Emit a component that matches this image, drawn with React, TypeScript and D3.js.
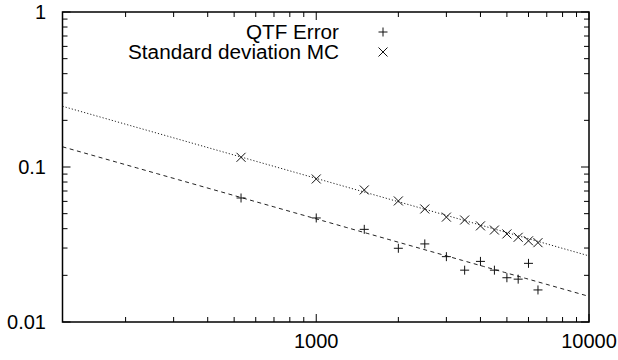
import React from "react";
import * as d3 from "d3";

const sampleSizes = [530, 1000, 1500, 2000, 2500, 3000, 3500, 4000, 4500, 5000, 5500, 6000, 6500];
const qtfError = [0.0631, 0.0469, 0.0396, 0.0299, 0.0319, 0.0264, 0.0216, 0.0246, 0.0216, 0.0193, 0.0189, 0.0239, 0.0161];
const stdDevMC = [0.1155, 0.0837, 0.0711, 0.0604, 0.0536, 0.0475, 0.0455, 0.0417, 0.0392, 0.037, 0.0352, 0.0334, 0.0325];
const qtfFit = { a: 1.463, b: -0.5 };
const mcFit = { a: 2.67, b: -0.5 };
const xDomain = [117.4, 10000];
const yDomain = [0.01, 1];
const xTickLabels = [1000, 10000];
const yTickLabels = [0.01, 0.1, 1];
const legendLabels = ["QTF Error", "Standard deviation MC"];

const W = 618, H = 360;
const L = 62.5, R = 589, T = 12, B = 322;
const FONT = "'Liberation Sans', Arial, Helvetica, sans-serif";

export default function App() {
  const x = d3.scaleLog().domain(xDomain).range([L, R]);
  const y = d3.scaleLog().domain(yDomain).range([B, T]);

  const xMinor: number[] = [];
  for (let dec = 100; dec < 10000; dec *= 10)
    for (let k = 2; k <= 9; k++) {
      const v = dec * k;
      if (v >= xDomain[0] && v < xDomain[1]) xMinor.push(v);
    }
  const yMinor: number[] = [];
  for (let dec = 0.01; dec < 1; dec *= 10)
    for (let k = 2; k <= 9; k++) yMinor.push(dec * k);

  const fitPts = (f: { a: number; b: number }) => {
    const pts: [number, number][] = [];
    const n = 50;
    const l0 = Math.log10(xDomain[0]), l1 = Math.log10(xDomain[1]);
    for (let i = 0; i <= n; i++) {
      const xv = Math.pow(10, l0 + ((l1 - l0) * i) / n);
      pts.push([xv, f.a * Math.pow(xv, f.b)]);
    }
    return pts;
  };
  const line = d3.line<[number, number]>().x((d) => x(d[0])).y((d) => y(d[1]));

  const plus = (cx: number, cy: number, s = 4.5) =>
    `M${cx - s},${cy}H${cx + s}M${cx},${cy - s}V${cy + s}`;
  const cross = (cx: number, cy: number, s = 4.5) =>
    `M${cx - s},${cy - s}L${cx + s},${cy + s}M${cx - s},${cy + s}L${cx + s},${cy - s}`;

  const major = 8, minor = 5;
  const ink = "#000";

  return (
    <svg width={W} height={H} style={{ position: "absolute", left: 0, top: 0, background: "#fff" }}
      fontFamily={FONT}>
      <rect x={0} y={0} width={W} height={H} fill="#fff" />
      <defs>
        <clipPath id="plot">
          <rect x={L} y={T} width={R - L} height={B - T} />
        </clipPath>
      </defs>
      {/* ticks */}
      <g stroke={ink} strokeWidth={1}>
        {xMinor.map((v, i) => (
          <g key={"xm" + i}>
            <line x1={x(v)} x2={x(v)} y1={B} y2={B - minor} />
            <line x1={x(v)} x2={x(v)} y1={T} y2={T + minor} />
          </g>
        ))}
        {xTickLabels.map((v, i) => (
          <g key={"xM" + i}>
            <line x1={x(v)} x2={x(v)} y1={B} y2={B - major} />
            <line x1={x(v)} x2={x(v)} y1={T} y2={T + major} />
          </g>
        ))}
        {yMinor.map((v, i) => (
          <g key={"ym" + i}>
            <line x1={L} x2={L + minor} y1={y(v)} y2={y(v)} />
            <line x1={R} x2={R - minor} y1={y(v)} y2={y(v)} />
          </g>
        ))}
        {yTickLabels.map((v, i) => (
          <g key={"yM" + i}>
            <line x1={L} x2={L + major} y1={y(v)} y2={y(v)} />
            <line x1={R} x2={R - major} y1={y(v)} y2={y(v)} />
          </g>
        ))}
      </g>
      {/* tick labels */}
      <g fontSize={20} fill={ink}>
        {xTickLabels.map((v, i) => (
          <text key={"xl" + i} x={x(v)} y={341} textAnchor="middle" dominantBaseline="central">
            {String(v)}
          </text>
        ))}
        {yTickLabels.map((v, i) => (
          <text key={"yl" + i} x={46} y={y(v)} textAnchor="end" dominantBaseline="central">
            {String(v)}
          </text>
        ))}
      </g>
      {/* fit lines */}
      <g clipPath="url(#plot)" fill="none" strokeWidth={1}>
        <path d={line(fitPts(mcFit)) || ""} stroke="#222" strokeDasharray="1.2,2" />
        <path d={line(fitPts(qtfFit)) || ""} stroke="#222" strokeDasharray="4,3.5" />
      </g>
      {/* data points */}
      <g fill="none" stroke="#111" strokeWidth={1}>
        {sampleSizes.map((n, i) => (
          <path key={"q" + i} d={plus(x(n), y(qtfError[i]))} />
        ))}
        {sampleSizes.map((n, i) => (
          <path key={"m" + i} d={cross(x(n), y(stdDevMC[i]))} />
        ))}
      </g>
      {/* legend */}
      <g fontSize={20} fill={ink}>
        <text x={339} y={32} textAnchor="end" dominantBaseline="central"
          textLength={93} lengthAdjust="spacingAndGlyphs">{legendLabels[0]}</text>
        <text x={339} y={52} textAnchor="end" dominantBaseline="central"
          textLength={211} lengthAdjust="spacingAndGlyphs">{legendLabels[1]}</text>
      </g>
      <g fill="none" stroke="#111" strokeWidth={1}>
        <path d={plus(383, 32)} />
        <path d={cross(383, 52)} />
      </g>
      {/* frame */}
      <rect x={L} y={T} width={R - L} height={B - T} fill="none" stroke={ink} strokeWidth={1.5} />
    </svg>
  );
}
